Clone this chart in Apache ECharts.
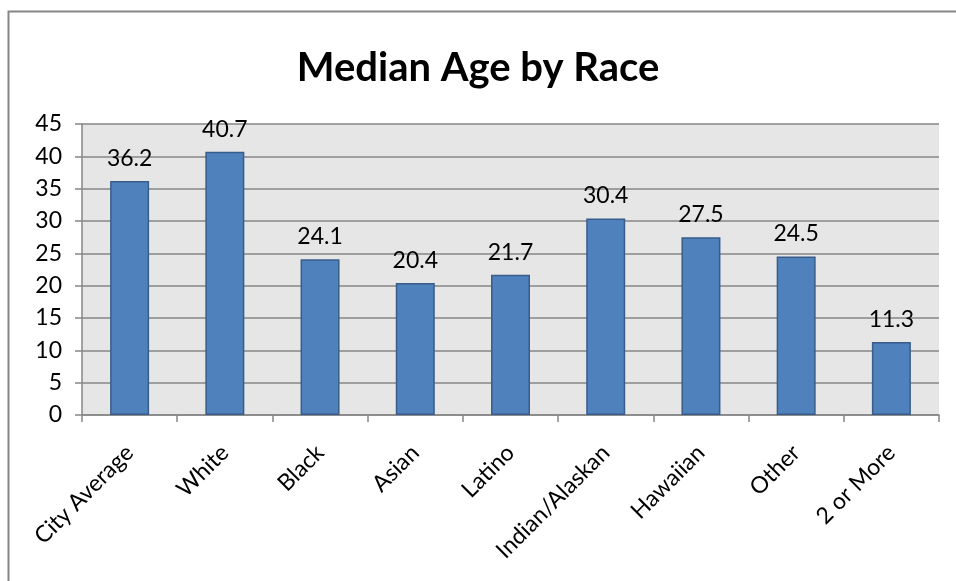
<!DOCTYPE html>
<html>
<head>
<meta charset="utf-8">
<script src="https://cdn.jsdelivr.net/npm/echarts@6/dist/echarts.min.js"></script>
<style>
  html, body { margin: 0; padding: 0; background: #fff; }
  #chart { width: 956px; height: 581px; }
</style>
</head>
<body>
<div id="chart"></div>
<script>
// Median age per group
const categories = ['City Average', 'White', 'Black', 'Asian', 'Latino', 'Indian/Alaskan', 'Hawaiian', 'Other', '2 or More'];
const medianAge = [36.2, 40.7, 24.1, 20.4, 21.7, 30.4, 27.5, 24.5, 11.3];
const yTicks = { min: 0, max: 45, interval: 5 };

const FONT = 'Lato, "Open Sans", sans-serif';

const chart = echarts.init(document.getElementById('chart'), null, { renderer: 'canvas' });

chart.setOption({
  animation: false,
  backgroundColor: '#ffffff',
  title: {
    text: 'Median Age by Race',
    left: 'center',
    top: 43,
    textStyle: { fontFamily: FONT, fontSize: 40, fontWeight: 'bold', color: '#000' }
  },
  graphic: [{
    type: 'rect',
    shape: { x: 8.5, y: 11.5, width: 1000, height: 1000 },
    style: { fill: 'none', stroke: '#868686', lineWidth: 2 },
    silent: true,
    z: -1
  }],
  grid: {
    left: 82, right: 17, top: 124, bottom: 166,
    show: true,
    backgroundColor: '#e6e6e6',
    borderWidth: 0
  },
  xAxis: {
    type: 'category',
    data: categories,
    boundaryGap: true,
    axisLine: { lineStyle: { color: '#868686', width: 1.5 } },
    axisTick: { show: true, alignWithLabel: false, length: 7, lineStyle: { color: '#868686', width: 1.5 } },
    axisLabel: {
      rotate: 45,
      margin: 34,
      interval: 0,
      fontFamily: FONT,
      fontSize: 23,
      color: '#000'
    }
  },
  yAxis: {
    type: 'value',
    min: yTicks.min,
    max: yTicks.max,
    interval: yTicks.interval,
    axisLine: { show: true, lineStyle: { color: '#868686', width: 1.5 } },
    axisTick: { show: true, length: 7, lineStyle: { color: '#868686', width: 1.5 } },
    axisLabel: { fontFamily: FONT, fontSize: 23, color: '#000', margin: 20 },
    splitLine: { show: true, lineStyle: { color: '#868686', width: 1.5 } }
  },
  series: [{
    type: 'bar',
    data: medianAge,
    barWidth: 39,
    itemStyle: { color: '#4f81bd', borderColor: '#385d8a', borderWidth: 1.5 },
    label: {
      show: true,
      position: 'top',
      distance: 11,
      fontFamily: FONT,
      fontSize: 23,
      color: '#000',
      formatter: p => p.value.toFixed(1)
    }
  }]
});
</script>
</body>
</html>
